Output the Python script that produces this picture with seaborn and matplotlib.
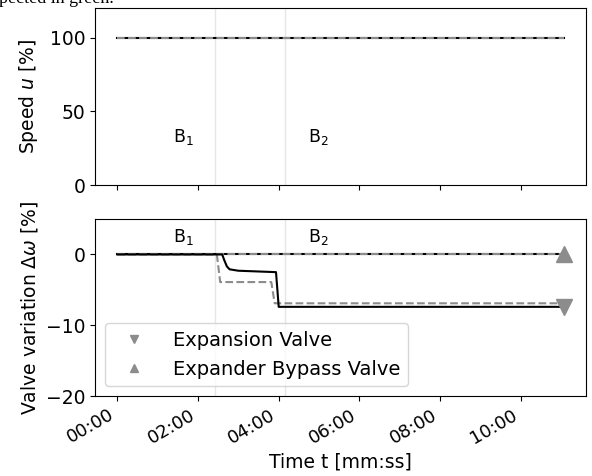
import matplotlib
matplotlib.use("Agg")
import matplotlib.pyplot as plt
from matplotlib.lines import Line2D
from matplotlib.ticker import FuncFormatter
import seaborn as sns

# Time axis [s] and signals
t_full = [0, 664]
speed_meas = [100, 100]
speed_ref = [100, 100]

t_exp_meas = [0, 156, 159, 163, 167, 180, 236, 240, 664]
exp_meas = [0, 0, -0.8, -1.7, -2.1, -2.3, -2.5, -7.4, -7.4]
t_exp_ref = [0, 148, 153, 229, 234, 664]
exp_ref = [0, 0, -3.9, -3.9, -6.9, -6.9]

bypass_meas = [0, 0]
bypass_ref = [0, 0]

# Phase boundaries and labels
phase_bounds = [145, 250]
phase_labels = ["B$_1$", "B$_2$"]
phase_label_x = [83, 283]

legend_labels = ["Expansion Valve", "Expander Bypass Valve"]
x_ticks = [0, 120, 240, 360, 480, 600]

plt.rcParams["font.size"] = 13
plt.rcParams["axes.labelsize"] = 13.5
plt.rcParams["xtick.labelsize"] = 13
plt.rcParams["ytick.labelsize"] = 13.5
plt.rcParams["legend.fontsize"] = 14
plt.rcParams["mathtext.default"] = "it"

fig, (ax1, ax2) = plt.subplots(2, 1, figsize=(5.92, 4.76), dpi=100, sharex=True)
fig.subplots_adjust(left=0.1605, right=0.990, top=0.983, bottom=0.168, hspace=0.192)

grey = "#8c8c8c"

# Speed
sns.lineplot(x=t_full, y=speed_meas, ax=ax1, color="black", lw=1.5)
sns.lineplot(x=t_full, y=speed_ref, ax=ax1, color=grey, lw=1.5, linestyle="--")
ax1.set_ylim(0, 120)
ax1.set_yticks([0, 50, 100])
ax1.set_ylabel("Speed $u$ [%]")
for xb in phase_bounds:
    ax1.axvline(xb, color="#e6e6e6", lw=1, zorder=0)
for lbl, xl in zip(phase_labels, phase_label_x):
    ax1.text(xl, 29, lbl, ha="left", va="baseline", fontsize=12.5)

# Valve variation
sns.lineplot(x=t_full, y=bypass_meas, ax=ax2, color="black", lw=1.5)
sns.lineplot(x=t_full, y=bypass_ref, ax=ax2, color=grey, lw=1.5, linestyle="--")
sns.lineplot(x=t_exp_ref, y=exp_ref, ax=ax2, color=grey, lw=1.5, linestyle="--")
sns.lineplot(x=t_exp_meas, y=exp_meas, ax=ax2, color="black", lw=1.5)
ax2.plot([t_exp_meas[-1]], [exp_meas[-1]], marker="v", ms=11, color=grey, ls="none", zorder=5)
ax2.plot([t_full[-1]], [bypass_meas[-1]], marker="^", ms=11, color=grey, ls="none", zorder=5)
for xb in phase_bounds:
    ax2.axvline(xb, color="#e6e6e6", lw=1, zorder=0)
for lbl, xl in zip(phase_labels, phase_label_x):
    ax2.text(xl, 1.8, lbl, ha="left", va="baseline", fontsize=12.5)
ax2.set_ylim(-20, 5)
ax2.set_yticks([-20, -10, 0])
ax2.set_ylabel(r"Valve variation $\Delta\omega$ [%]")
ax2.set_xlabel("Time t [mm:ss]")

ax2.set_xticks(x_ticks)
ax2.xaxis.set_major_formatter(FuncFormatter(lambda v, p: f"{int(v)//60:02d}:{int(v)%60:02d}"))
for lab in ax2.get_xticklabels():
    lab.set_rotation(30)
    lab.set_ha("right")
ax1.tick_params(labelbottom=False)

handles = [
    Line2D([], [], marker="v", ms=6, color=grey, ls="none"),
    Line2D([], [], marker="^", ms=6, color=grey, ls="none"),
]
ax2.legend(handles, legend_labels, loc="lower left", handlelength=2.2, handletextpad=0.9)

fig.align_ylabels([ax1, ax2])

fig.text(-0.002, 1 - 3 / 476, "pected in green.", family="Liberation Serif", fontsize=13,
         ha="left", va="baseline")

fig.savefig("out.png", dpi=100)
